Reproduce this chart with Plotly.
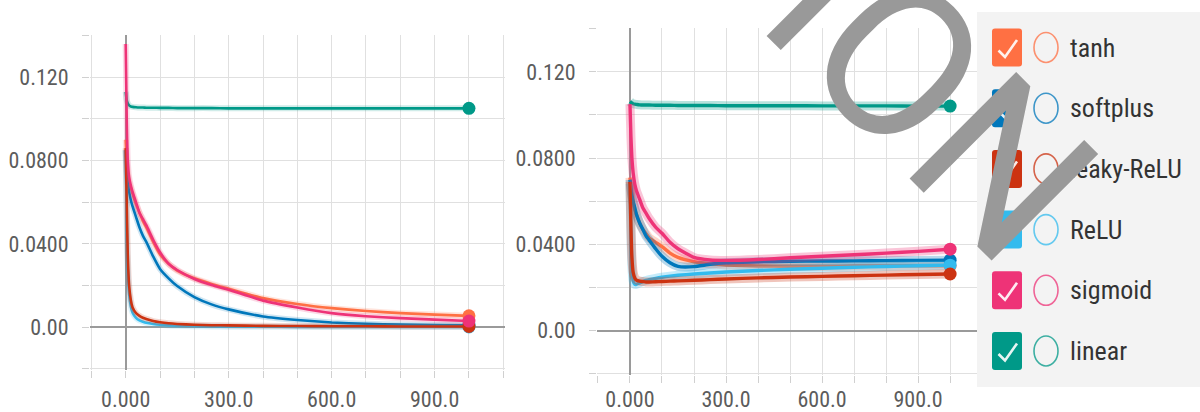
import plotly.graph_objects as go

# ---------------- data ----------------
steps = [0, 3, 6, 10, 15, 20, 30, 40, 50, 60, 80, 100, 125, 150, 200, 250,
         300, 400, 500, 600, 700, 800, 900, 1000]

run_names = ["tanh", "softplus", "leaky-ReLU", "ReLU", "sigmoid", "linear"]
run_colors = ["#ff7043", "#0077bb", "#cc3311", "#33bbee", "#ee3377", "#009988"]

# left panel (training loss)
train_tanh = [0.090, 0.080, 0.074, 0.070, 0.067, 0.064, 0.059, 0.055, 0.051, 0.048, 0.041, 0.035,
              0.0305, 0.0272, 0.0235, 0.0208, 0.0185, 0.0140, 0.0112, 0.0092, 0.0078, 0.0068, 0.0061, 0.0055]
train_softplus = [0.085, 0.075, 0.069, 0.065, 0.061, 0.058, 0.053, 0.048, 0.044, 0.041, 0.034, 0.028,
                  0.0235, 0.0198, 0.0145, 0.0110, 0.0086, 0.0052, 0.0035, 0.0023, 0.0017, 0.0013, 0.0011, 0.0010]
train_leaky = [0.086, 0.060, 0.035, 0.020, 0.013, 0.0095, 0.0068, 0.0055, 0.0046, 0.0040, 0.0030, 0.0024,
               0.0019, 0.0016, 0.0012, 0.0010, 0.0009, 0.0007, 0.0006, 0.0005, 0.0005, 0.0004, 0.0004, 0.0004]
train_relu = [0.085, 0.050, 0.028, 0.016, 0.010, 0.0070, 0.0045, 0.0033, 0.0027, 0.0022, 0.0016, 0.0012,
              0.0009, 0.0007, 0.0005, 0.0004, 0.0003, 0.0003, 0.0002, 0.0002, 0.0002, 0.0002, 0.0002, 0.0002]
train_sigmoid = [0.136, 0.100, 0.080, 0.072, 0.068, 0.065, 0.060, 0.055, 0.052, 0.049, 0.042, 0.036,
                 0.0305, 0.0275, 0.0232, 0.0203, 0.0180, 0.0128, 0.0095, 0.0068, 0.0053, 0.0044, 0.0037, 0.0030]
train_linear = [0.113, 0.109, 0.1075, 0.1065, 0.1060, 0.1058, 0.1056, 0.1055, 0.1055, 0.1054, 0.1054, 0.1053,
                0.1053, 0.1052, 0.1052, 0.1052, 0.1051, 0.1051, 0.1051, 0.1051, 0.1051, 0.1051, 0.1051, 0.1051]

# right panel (validation loss)
valid_tanh = [0.071, 0.066, 0.062, 0.059, 0.056, 0.054, 0.050, 0.047, 0.045, 0.043, 0.041, 0.039,
              0.036, 0.034, 0.0320, 0.0310, 0.0305, 0.0300, 0.0299, 0.0299, 0.0300, 0.0300, 0.0301, 0.0301]
valid_softplus = [0.070, 0.066, 0.063, 0.060, 0.057, 0.054, 0.050, 0.047, 0.044, 0.042, 0.038, 0.0345,
                  0.0315, 0.0298, 0.0297, 0.0308, 0.0315, 0.0320, 0.0322, 0.0323, 0.0324, 0.0325, 0.0326, 0.0327]
valid_leaky = [0.069, 0.048, 0.034, 0.027, 0.0245, 0.0235, 0.0230, 0.0228, 0.0226, 0.0226, 0.0227, 0.0228,
               0.0230, 0.0231, 0.0234, 0.0237, 0.0240, 0.0245, 0.0249, 0.0252, 0.0255, 0.0258, 0.0261, 0.0263]
valid_relu = [0.068, 0.045, 0.030, 0.023, 0.0215, 0.0215, 0.0222, 0.0228, 0.0233, 0.0237, 0.0243, 0.0248,
              0.0253, 0.0257, 0.0263, 0.0268, 0.0272, 0.0279, 0.0285, 0.0290, 0.0294, 0.0298, 0.0301, 0.0304]
valid_sigmoid = [0.105, 0.090, 0.080, 0.073, 0.068, 0.065, 0.061, 0.057, 0.0545, 0.052, 0.048, 0.0452,
                 0.041, 0.038, 0.0340, 0.0328, 0.0326, 0.0330, 0.0338, 0.0345, 0.0352, 0.0360, 0.0368, 0.0378]
valid_linear = [0.1062, 0.1058, 0.1055, 0.1052, 0.1050, 0.1049, 0.1047, 0.1046, 0.1046, 0.1046, 0.1045, 0.1045,
                0.1045, 0.1044, 0.1044, 0.1044, 0.1043, 0.1043, 0.1043, 0.1042, 0.1042, 0.1042, 0.1041, 0.1041]

train_series = {"tanh": train_tanh, "softplus": train_softplus, "leaky-ReLU": train_leaky,
                "ReLU": train_relu, "sigmoid": train_sigmoid, "linear": train_linear}
valid_series = {"tanh": valid_tanh, "softplus": valid_softplus, "leaky-ReLU": valid_leaky,
                "ReLU": valid_relu, "sigmoid": valid_sigmoid, "linear": valid_linear}

x_tick_vals = [-100, 0, 100, 200, 300, 400, 500, 600, 700, 800, 900, 1000, 1100]
x_tick_text = ["", "0.000", "", "", "300.0", "", "", "600.0", "", "", "900.0", "", ""]
y_tick_vals = [-0.02, 0.0, 0.02, 0.04, 0.06, 0.08, 0.10, 0.12, 0.14]
y_tick_text = ["", "0.00", "", "0.0400", "", "0.0800", "", "0.120", ""]

watermark_text = "ION"

# ---------------- styling ----------------
W, H = 1200, 412
FONT = "Liberation Sans Narrow, Roboto Condensed, DejaVu Sans Condensed, Roboto, sans-serif"


def px(xp):
    return xp / W


def py(yp):
    return 1 - yp / H


fig = go.Figure()

draw_order = ["linear", "tanh", "softplus", "ReLU", "leaky-ReLU", "sigmoid"]
panels = [
    dict(xa="x", ya="y", data=train_series, width=2.6, halo=6, halo_op=0.18, msize=13),
    dict(xa="x2", ya="y2", data=valid_series, width=3.4, halo=9, halo_op=0.28, msize=13),
]
for p in panels:
    for name in draw_order:
        col = run_colors[run_names.index(name)]
        ys = p["data"][name]
        fig.add_trace(go.Scatter(x=steps, y=ys, xaxis=p["xa"], yaxis=p["ya"], mode="lines",
                                 line=dict(color=col, width=p["halo"], shape="spline", smoothing=0.5),
                                 opacity=p["halo_op"], hoverinfo="skip", showlegend=False))
        fig.add_trace(go.Scatter(x=steps, y=ys, xaxis=p["xa"], yaxis=p["ya"], mode="lines",
                                 line=dict(color=col, width=p["width"], shape="spline", smoothing=0.5),
                                 name=name, showlegend=False))
        fig.add_trace(go.Scatter(x=[steps[-1]], y=[ys[-1]], xaxis=p["xa"], yaxis=p["ya"], mode="markers",
                                 marker=dict(color=col, size=p["msize"]), showlegend=False, hoverinfo="skip"))

tickfont = dict(family=FONT, size=22, color="#5c5c5c")
axis_common = dict(
    tickmode="array", showgrid=True, gridcolor="#e0e0e0", gridwidth=1,
    zeroline=True, zerolinecolor="#9a9a9a", zerolinewidth=1.8,
    ticks="outside", ticklen=7, tickcolor="#d0d0d0", tickwidth=1,
    tickfont=tickfont, showline=False, fixedrange=True, automargin=False,
)
xaxis = dict(axis_common, tickvals=x_tick_vals, ticktext=x_tick_text)
yaxis = dict(axis_common, tickvals=y_tick_vals, ticktext=y_tick_text, ticklabelstandoff=9)

fig.update_layout(
    width=W, height=H,
    margin=dict(l=0, r=0, t=0, b=0, autoexpand=False),
    paper_bgcolor="white", plot_bgcolor="white",
    showlegend=False,
    xaxis=dict(xaxis, domain=[px(90), px(505)], range=[-104, 1105], anchor="y", ticklabelstandoff=3),
    yaxis=dict(yaxis, domain=[py(370), py(35)], range=[-0.0205, 0.1403], anchor="x"),
    xaxis2=dict(xaxis, domain=[px(597), px(977)], range=[-103, 1084], anchor="y2", ticklabelstandoff=-2),
    yaxis2=dict(yaxis, domain=[py(375), py(28)], range=[-0.0205, 0.1403], anchor="x2"),
)

shapes = []
annotations = []

# legend panel
shapes.append(dict(type="rect", xref="paper", yref="paper", x0=px(977), x1=1.0, y0=py(387), y1=py(12),
                   fillcolor="#f3f3f3", line=dict(width=0), layer="above"))

row0, row_gap = 47.5, 60.7
bx0, bx1, bh, r = 992, 1022, 38, 3
for i, (name, col) in enumerate(zip(run_names, run_colors)):
    yc = row0 + i * row_gap
    y0, y1 = yc - bh / 2, yc + bh / 2
    path = (f"M {px(bx0 + r)},{py(y0)} L {px(bx1 - r)},{py(y0)} Q {px(bx1)},{py(y0)} {px(bx1)},{py(y0 + r)} "
            f"L {px(bx1)},{py(y1 - r)} Q {px(bx1)},{py(y1)} {px(bx1 - r)},{py(y1)} "
            f"L {px(bx0 + r)},{py(y1)} Q {px(bx0)},{py(y1)} {px(bx0)},{py(y1 - r)} "
            f"L {px(bx0)},{py(y0 + r)} Q {px(bx0)},{py(y0)} {px(bx0 + r)},{py(y0)} Z")
    shapes.append(dict(type="path", xref="paper", yref="paper", path=path, fillcolor=col,
                       line=dict(width=0), layer="above"))
    check = (f"M {px(bx0 + 6.5)},{py(yc + 3)} L {px(bx0 + 13)},{py(yc + 9.5)} "
             f"L {px(bx0 + 25)},{py(yc - 7.5)}")
    shapes.append(dict(type="path", xref="paper", yref="paper", path=check,
                       line=dict(color="rgba(255,255,255,0.9)", width=2.6), layer="above"))
    shapes.append(dict(type="circle", xref="paper", yref="paper", x0=px(1034), x1=px(1058),
                       y0=py(yc + 15), y1=py(yc - 15), line=dict(color=col, width=1.6),
                       fillcolor="rgba(0,0,0,0)", opacity=0.75, layer="above"))
    annotations.append(dict(xref="paper", yref="paper", x=px(1068), y=py(yc), xanchor="left",
                            yanchor="middle", text=name, showarrow=False,
                            font=dict(family=FONT, size=26, color="#333333")))

# watermark overlay
annotations.append(dict(xref="paper", yref="paper", x=px(930), y=py(96), xanchor="center",
                        yanchor="middle", text=watermark_text, showarrow=False, textangle=45,
                        font=dict(family="Roboto, sans-serif", size=212, color="#999999")))

fig.update_layout(shapes=shapes, annotations=annotations)

fig.write_html("out.html")
